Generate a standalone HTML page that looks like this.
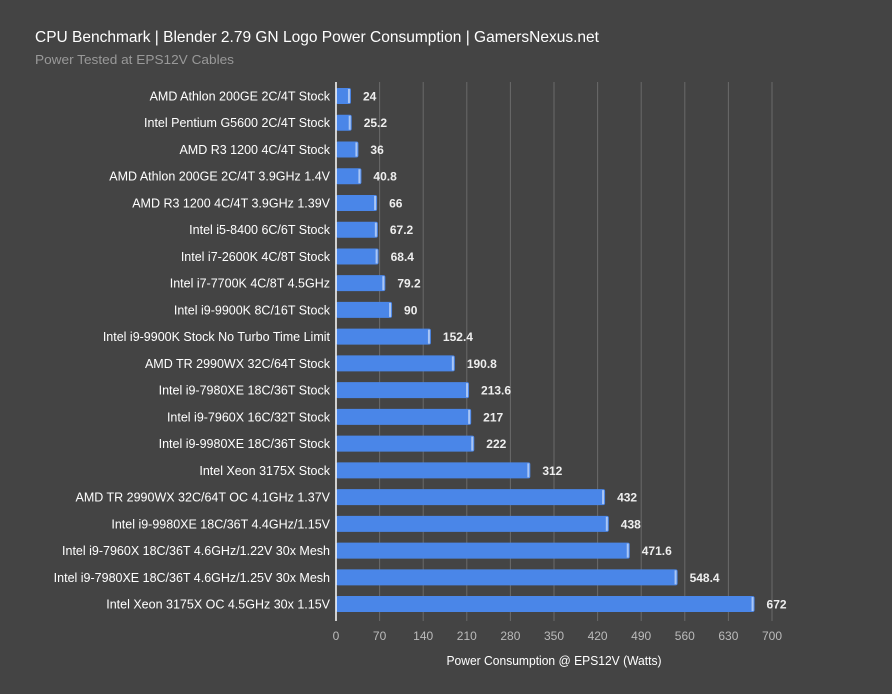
<!DOCTYPE html><html><head><meta charset="utf-8"><style>
body{margin:0;background:#444;}
svg{display:block;font-family:"Liberation Sans",Roboto,sans-serif;}
</style></head><body>
<svg width="892" height="694" xmlns="http://www.w3.org/2000/svg">
<rect width="892" height="694" fill="#444"/>
<text x="35" y="42" font-size="16" fill="#fff" textLength="564" lengthAdjust="spacingAndGlyphs">CPU Benchmark | Blender 2.79 GN Logo Power Consumption | GamersNexus.net</text>
<text x="35" y="64" font-size="13" fill="#999" textLength="199" lengthAdjust="spacingAndGlyphs">Power Tested at EPS12V Cables</text>
<g id="g"></g>
</svg>
<script>
const d=[["AMD Athlon 200GE 2C/4T Stock",24],["Intel Pentium G5600 2C/4T Stock",25.2],["AMD R3 1200 4C/4T Stock",36],["AMD Athlon 200GE 2C/4T 3.9GHz 1.4V",40.8],["AMD R3 1200 4C/4T 3.9GHz 1.39V",66],["Intel i5-8400 6C/6T Stock",67.2],["Intel i7-2600K 4C/8T Stock",68.4],["Intel i7-7700K 4C/8T 4.5GHz",79.2],["Intel i9-9900K 8C/16T Stock",90],["Intel i9-9900K Stock No Turbo Time Limit",152.4],["AMD TR 2990WX 32C/64T Stock",190.8],["Intel i9-7980XE 18C/36T Stock",213.6],["Intel i9-7960X 16C/32T Stock",217],["Intel i9-9980XE 18C/36T Stock",222],["Intel Xeon 3175X Stock",312],["AMD TR 2990WX 32C/64T OC 4.1GHz 1.37V",432],["Intel i9-9980XE 18C/36T 4.4GHz/1.15V",438],["Intel i9-7960X 18C/36T 4.6GHz/1.22V 30x Mesh",471.6],["Intel i9-7980XE 18C/36T 4.6GHz/1.25V 30x Mesh",548.4],["Intel Xeon 3175X OC 4.5GHz 30x 1.15V",672]];
const x0=336,s=436/700;let h='';
for(let v=70;v<=700;v+=70){const x=x0+v*s;h+=`<line x1="${x}" y1="82" x2="${x}" y2="621" stroke="#6a6a6a" stroke-width="1"/>`;}
for(let v=0;v<=700;v+=70){const x=x0+v*s;h+=`<text x="${x}" y="640" font-size="12" fill="#bbb" text-anchor="middle">${v}</text>`;}
d.forEach((r,i)=>{const c=96+i*26.74;const w=r[1]*s;
h+=`<rect x="${x0}" y="${c-8}" width="${w}" height="16" rx="2" fill="#4a86e8"/>`;
h+=`<rect x="${x0+w-3}" y="${c-7}" width="2" height="14" fill="#a9c6f5"/>`;
h+=`<text x="330" y="${c+4.5}" font-size="12.5" fill="#fff" text-anchor="end">${r[0]}</text>`;
h+=`<text x="${x0+w+12}" y="${c+4.5}" font-size="12" font-weight="bold" fill="#eee">${r[1]}</text>`;});
h+=`<line x1="${x0}" y1="82" x2="${x0}" y2="621" stroke="#fff" stroke-width="1.5"/>`;
h+=`<text x="554" y="665" font-size="12.5" fill="#fff" text-anchor="middle" textLength="215" lengthAdjust="spacingAndGlyphs">Power Consumption @ EPS12V (Watts)</text>`;
document.getElementById('g').innerHTML=h;
</script>
</body></html>
